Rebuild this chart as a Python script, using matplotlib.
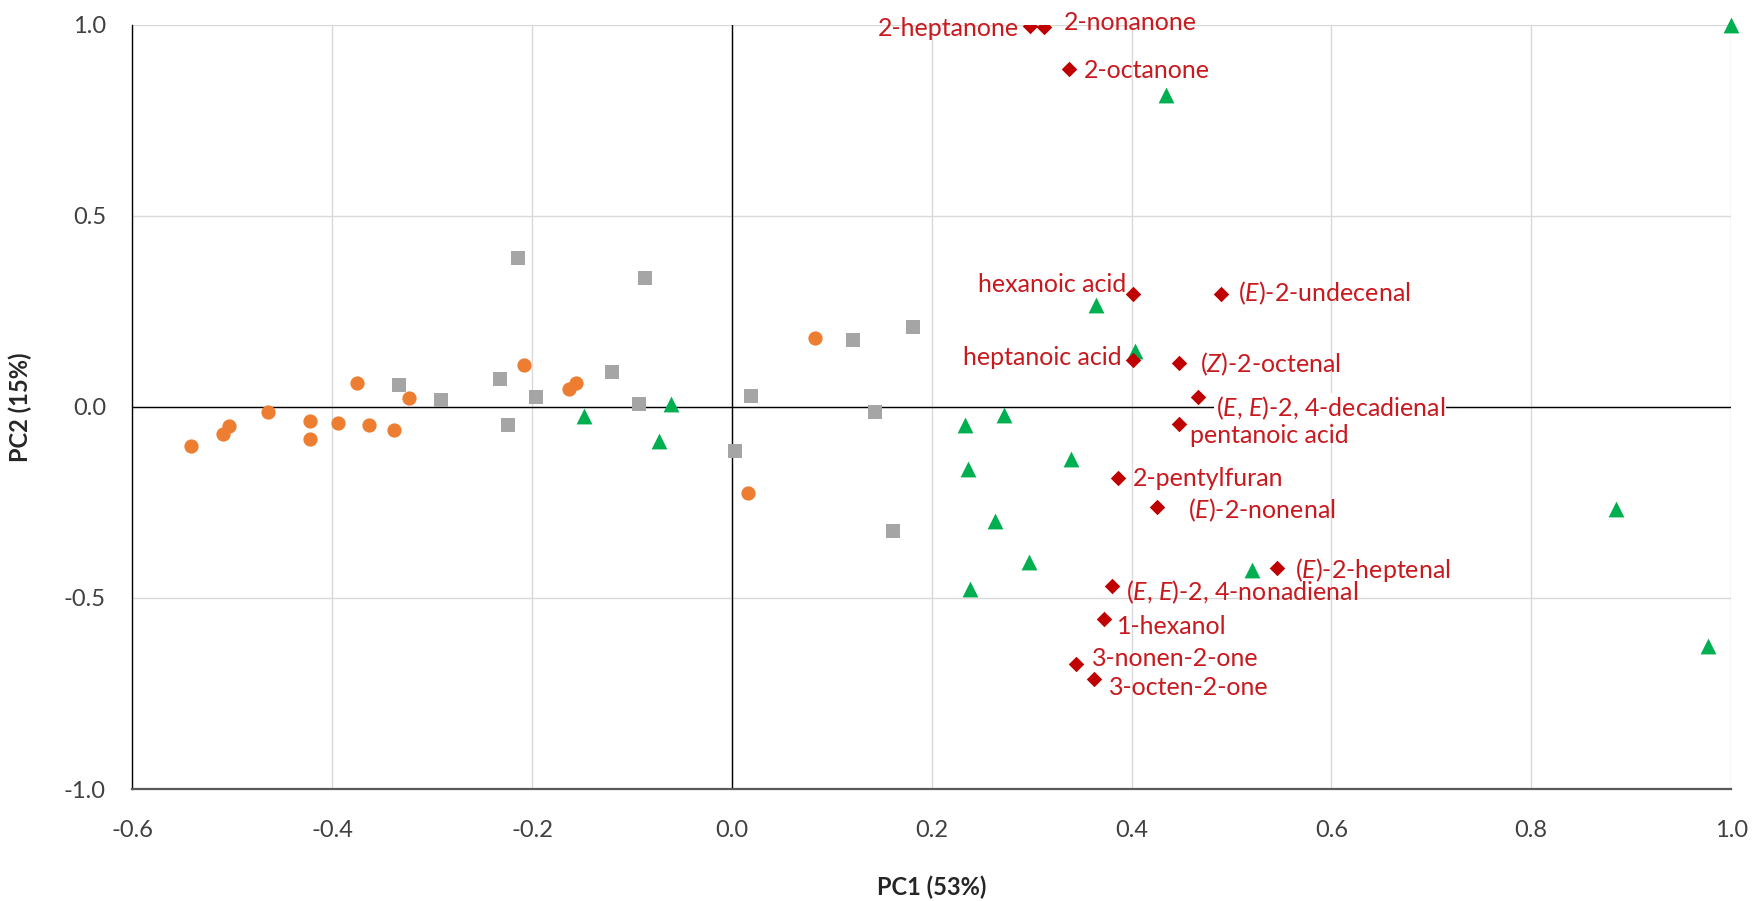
import numpy as np
import matplotlib
matplotlib.use("Agg")
import matplotlib.pyplot as plt

plt.rcParams['font.family'] = ['Lato', 'DejaVu Sans']
plt.rcParams['mathtext.fontset'] = 'custom'
plt.rcParams['mathtext.rm'] = 'Lato'
plt.rcParams['mathtext.it'] = 'Lato:italic'
plt.rcParams['axes.unicode_minus'] = False

# sample scores, three groups
orange_pc1 = [-0.541, -0.509, -0.503, -0.464, -0.422, -0.422, -0.394, -0.375,
              -0.363, -0.338, -0.323, -0.208, -0.163, -0.156, 0.016, 0.083]
orange_pc2 = [-0.102, -0.070, -0.050, -0.012, -0.036, -0.083, -0.041, 0.062,
              -0.047, -0.059, 0.024, 0.109, 0.048, 0.062, -0.224, 0.181]

gray_pc1 = [-0.333, -0.291, -0.232, -0.224, -0.214, -0.196, -0.120, -0.093,
            -0.087, 0.003, 0.019, 0.121, 0.143, 0.161, 0.181]
gray_pc2 = [0.058, 0.018, 0.073, -0.046, 0.389, 0.025, 0.091, 0.007,
            0.338, -0.116, 0.030, 0.176, -0.014, -0.324, 0.209]

green_pc1 = [-0.148, -0.073, -0.061, 0.233, 0.236, 0.238, 0.263, 0.272, 0.297,
             0.339, 0.364, 0.403, 0.434, 0.521, 0.885, 0.977, 1.0]
green_pc2 = [-0.024, -0.090, 0.009, -0.048, -0.163, -0.477, -0.299, -0.020, -0.407,
             -0.137, 0.268, 0.146, 0.817, -0.427, -0.268, -0.626, 1.0]

# volatile compound loadings
compounds = ['2-heptanone', '2-nonanone', '2-octanone', 'hexanoic acid',
             '($\\mathit{E}$)-2-undecenal', 'heptanoic acid', '($\\mathit{Z}$)-2-octenal',
             '($\\mathit{E}$, $\\mathit{E}$)-2, 4-decadienal', 'pentanoic acid',
             '2-pentylfuran', '($\\mathit{E}$)-2-nonenal', '($\\mathit{E}$)-2-heptenal',
             '($\\mathit{E}$, $\\mathit{E}$)-2, 4-nonadienal', '1-hexanol',
             '3-nonen-2-one', '3-octen-2-one']
comp_pc1 = [0.298, 0.312, 0.337, 0.4015, 0.490, 0.4015, 0.447, 0.466, 0.447,
            0.386, 0.425, 0.546, 0.380, 0.372, 0.344, 0.362]
comp_pc2 = [0.998, 0.994, 0.885, 0.297, 0.297, 0.123, 0.115, 0.026, -0.045,
            -0.187, -0.262, -0.421, -0.468, -0.556, -0.673, -0.711]

# label placement: pixel offset from the point (x right, y down) and alignment
label_dx = [-11, 20, 15, -7, 17, -11, 21, 18, 11, 15, 31, 18, 14, 13, 16, 15]
label_dy = [3, -5, 2, -9, 0, -2, 1, 11, 11, 0, 3, 2, 7, 7, -6, 9]
label_ha = ['right', 'left', 'left', 'right', 'left', 'right', 'left', 'left', 'left',
            'left', 'left', 'left', 'left', 'left', 'left', 'left']

fig = plt.figure(figsize=(17.53, 9.01), dpi=100)
ax = fig.add_axes([0.0755, 0.1243, 0.912, 0.848])

ax.set_xlim(-0.6, 1.0)
ax.set_ylim(-1.0, 1.0)
ax.set_xticks(np.arange(-0.6, 1.01, 0.2))
ax.set_yticks(np.arange(-1.0, 1.01, 0.5))
ax.xaxis.set_major_formatter(matplotlib.ticker.FormatStrFormatter('%.1f'))
ax.yaxis.set_major_formatter(matplotlib.ticker.FormatStrFormatter('%.1f'))
ax.grid(True, color='#D9D9D9', lw=1.0)
ax.set_axisbelow(True)

for s in ['top', 'right']:
    ax.spines[s].set_visible(False)
ax.spines['left'].set_color('black')
ax.spines['left'].set_linewidth(1.0)
ax.spines['bottom'].set_color('#595959')
ax.spines['bottom'].set_linewidth(1.6)

ax.axhline(0, color='black', lw=1.0, zorder=2)
ax.axvline(0, color='black', lw=1.0, zorder=2)

ax.tick_params(length=0, labelsize=17, labelcolor='#404040')
ax.tick_params(axis='x', pad=22)
ax.tick_params(axis='y', pad=19)

ax.scatter(orange_pc1, orange_pc2, marker='o', s=105, color='#ED7D31', lw=0, zorder=4)
ax.scatter(gray_pc1, gray_pc2, marker='s', s=100, color='#A5A5A5', lw=0, zorder=4)
ax.scatter(green_pc1, green_pc2, marker='^', s=130, color='#00B050', lw=0, zorder=4,
           clip_on=False)
ax.scatter(comp_pc1, comp_pc2, marker='D', s=62, color='#C00000', lw=0, zorder=5)

for i in range(len(compounds)):
    t = ax.annotate(compounds[i], (comp_pc1[i], comp_pc2[i]),
                    xytext=(label_dx[i], -label_dy[i]), textcoords='offset pixels',
                    ha=label_ha[i], va='center', fontsize=18, color='#C8191E', zorder=3)
    if 'decadienal' in compounds[i]:
        t.set_bbox(dict(facecolor='white', edgecolor='none', pad=1))

ax.set_xlabel('PC1 (53%)', fontsize=17, fontweight='bold', color='#262626')
ax.set_ylabel('PC2 (15%)', fontsize=17, fontweight='bold', color='#262626')
ax.xaxis.set_label_coords(0.5, -0.113)
ax.yaxis.set_label_coords(-0.0625, 0.5)

fig.savefig('out.png', dpi=100)
